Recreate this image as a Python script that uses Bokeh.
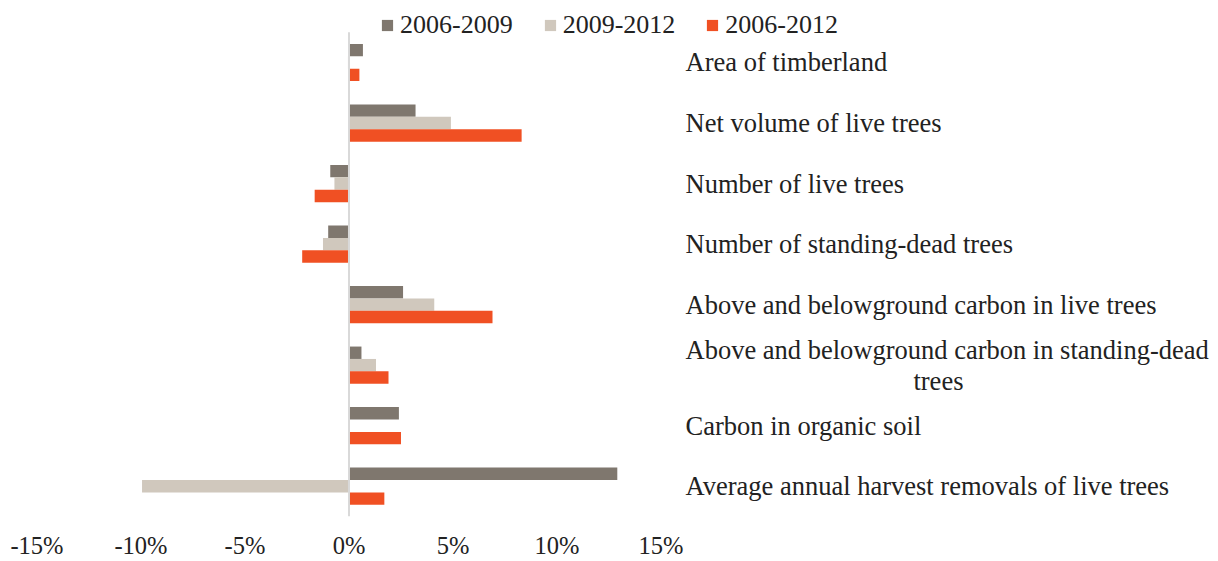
from bokeh.plotting import figure
from bokeh.models import (ColumnDataSource, Range1d, FixedTicker, Legend, LegendItem)
from bokeh.transform import dodge
from bokeh.core.properties import value
from bokeh.embed import file_html
from bokeh.resources import INLINE

# ---------------- data ----------------
categories = [
    "Area of timberland",
    "Net volume of live trees",
    "Number of live trees",
    "Number of standing-dead trees",
    "Above and belowground carbon in live trees",
    "Above and belowground carbon in standing-dead trees",
    "Carbon in organic soil",
    "Average annual harvest removals of live trees",
]
series_names = ["2006-2009", "2009-2012", "2006-2012"]
s_2006_2009 = [0.67, 3.2, -0.9, -1.0, 2.6, 0.6, 2.4, 12.9]
s_2009_2012 = [-0.05, 4.9, -0.7, -1.25, 4.1, 1.3, 0.05, -9.95]
s_2006_2012 = [0.5, 8.3, -1.65, -2.25, 6.9, 1.9, 2.5, 1.7]
tick_values = [-15, -10, -5, 0, 5, 10, 15]
tick_labels = ["-15%", "-10%", "-5%", "0%", "5%", "10%", "15%"]

colors = ["#7F776E", "#D0C8BD", "#F05023"]
FONT = "Liberation Serif"
TXT = "#222222"

n = len(categories)
ypos = [n - 1 - i for i in range(n)]  # first category at top

# wrap long labels: first line left-aligned, continuation line centred
first_y, first_t, cont_y, cont_t = [], [], [], []
half = 0.256
for i, c in enumerate(categories):
    if len(c) > 46:
        cut = c.rfind(" ", 0, 46)
        first_y.append(ypos[i] + half)
        first_t.append(c[:cut])
        cont_y.append(ypos[i] - half)
        cont_t.append(c[cut + 1:])
    else:
        first_y.append(ypos[i])
        first_t.append(c)

src = ColumnDataSource(dict(y=ypos, a=s_2006_2009, b=s_2009_2012, c=s_2006_2012))

p = figure(width=1210, height=561, output_backend="svg", toolbar_location=None,
           x_range=Range1d(-16.37, 41.42), y_range=Range1d(-0.5, 7.892),
           min_border_left=8, min_border_right=0, min_border_top=8, min_border_bottom=0)
p.outline_line_color = None
p.grid.visible = False
p.yaxis.visible = False
p.background_fill_color = "white"
p.border_fill_color = "white"

bh = 0.205
r1 = p.hbar(y=dodge("y", bh, range=p.y_range), left=0, right="a", height=bh,
            source=src, fill_color=colors[0], line_color=None)
r2 = p.hbar(y=dodge("y", 0, range=p.y_range), left=0, right="b", height=bh,
            source=src, fill_color=colors[1], line_color=None)
r3 = p.hbar(y=dodge("y", -bh, range=p.y_range), left=0, right="c", height=bh,
            source=src, fill_color=colors[2], line_color=None)

# zero line spanning the category area
p.segment(x0=[0], y0=[-0.5], x1=[0], y1=[n - 0.5], line_color="#D9D9D9", line_width=2)

# category labels on the right
p.text(x=16.18, y=first_y, text=first_t, text_align="left", text_baseline="middle",
       text_font=value(FONT), text_font_size="26.5px", text_color=TXT)
p.text(x=28.34, y=cont_y, text=cont_t, text_align="center", text_baseline="middle",
       text_font=value(FONT), text_font_size="26.5px", text_color=TXT)

# x axis
ax = p.xaxis[0]
ax.ticker = FixedTicker(ticks=tick_values)
ax.major_label_overrides = {v: l for v, l in zip(tick_values, tick_labels)}
ax.axis_line_color = None
ax.major_tick_line_color = None
ax.minor_tick_line_color = None
ax.major_label_text_font = FONT
ax.major_label_text_font_size = "24.5px"
ax.major_label_text_color = TXT
ax.major_label_standoff = 9

legend = Legend(items=[LegendItem(label=series_names[0], renderers=[r1]),
                       LegendItem(label=series_names[1], renderers=[r2]),
                       LegendItem(label=series_names[2], renderers=[r3])],
                orientation="horizontal", location="top_center",
                border_line_color=None, background_fill_alpha=0,
                glyph_width=14, glyph_height=14, label_standoff=6, spacing=30,
                padding=0, margin=2,
                label_text_font=FONT, label_text_font_size="26px", label_text_color=TXT)
p.add_layout(legend)

open("out.html", "w").write(file_html(p, INLINE))
